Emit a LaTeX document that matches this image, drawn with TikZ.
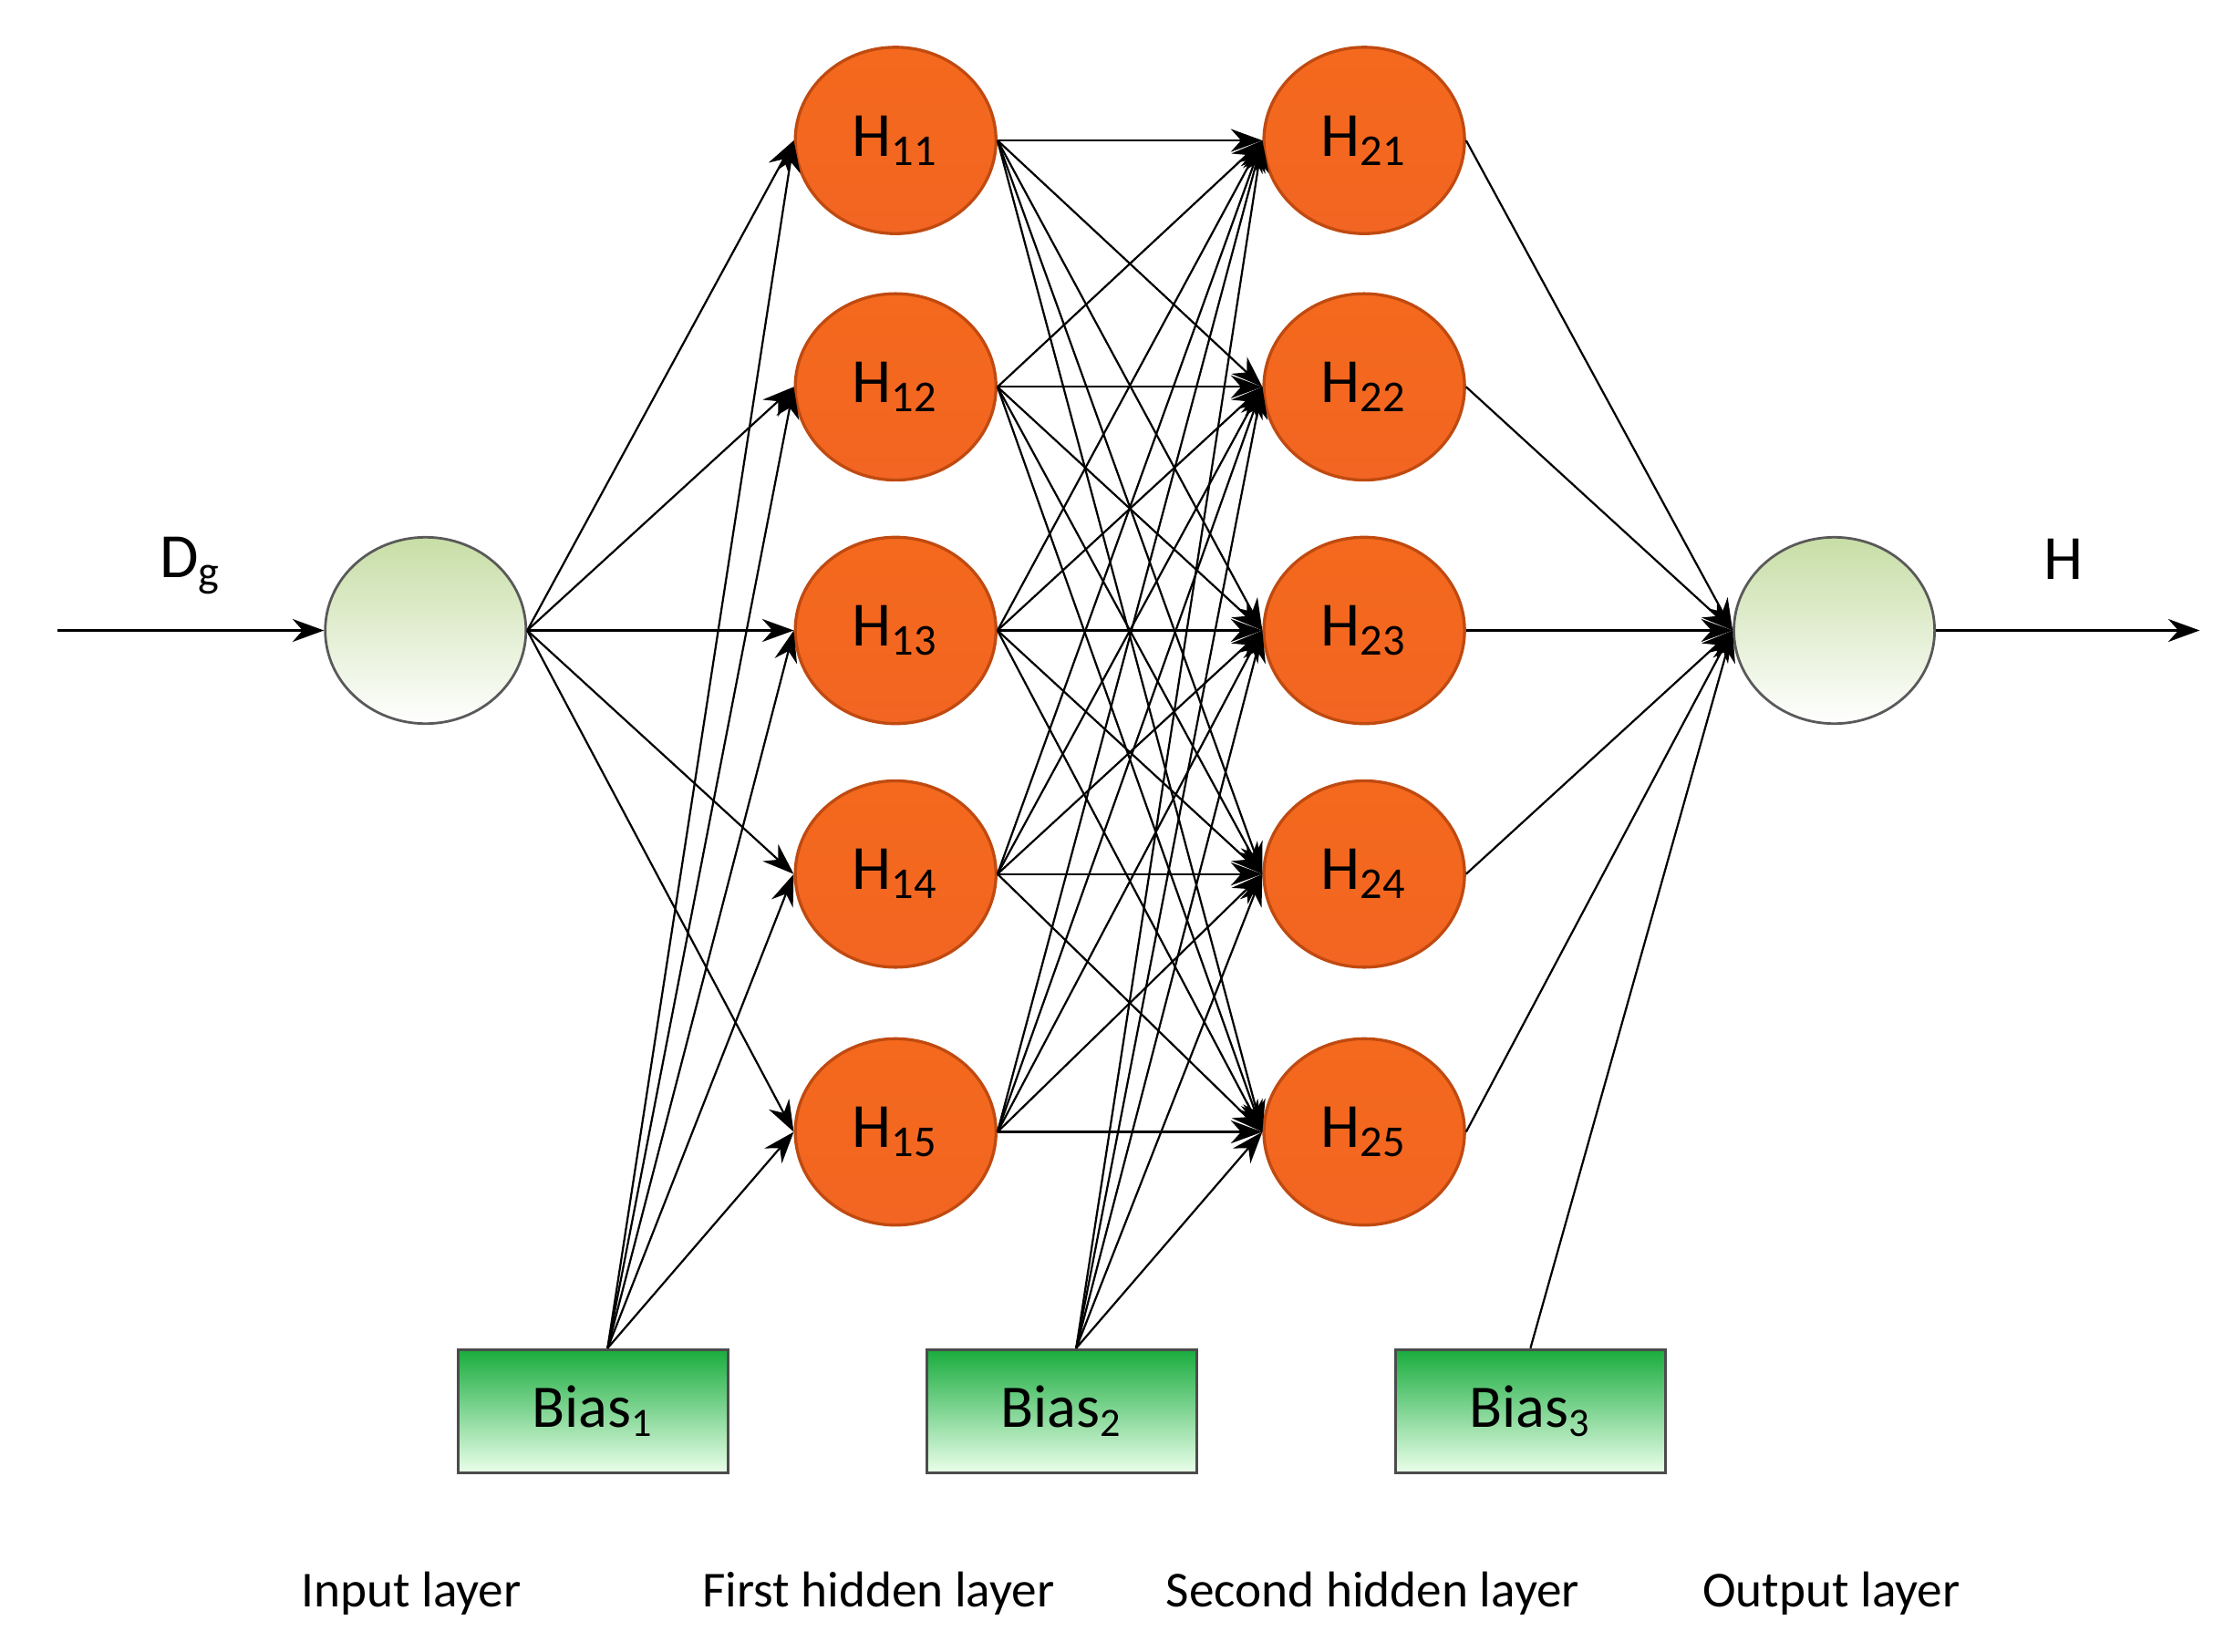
\documentclass[tikz,border=0pt]{standalone}
\usepackage{fontspec}
\setmainfont{Carlito}
\usetikzlibrary{arrows.meta,calc,shapes.geometric}
\definecolor{neuron}{HTML}{F26522}
\definecolor{neuronb}{HTML}{C04A10}
\tikzset{
 hid/.style={ellipse,draw=neuronb,line width=0.6pt,minimum width=1.4cm,minimum height=1.3cm,inner sep=0pt,top color=neuron!85!orange,bottom color=neuron,font=\fontsize{12.5}{14}\selectfont},
 io/.style={ellipse,draw=gray!70!black,line width=0.5pt,minimum width=1.4cm,minimum height=1.3cm,top color=green!25!olive!35!white,bottom color=white},
 bias/.style={draw=black!70,line width=0.6pt,minimum width=1.88cm,minimum height=0.86cm,top color=green!60!teal!80!black!90,bottom color=green!8,font=\fontsize{12}{13}\selectfont},
 lab/.style={font=\fontsize{10}{12}\selectfont},
 con/.style={line width=0.4pt,-{Stealth[length=2.2mm,width=1.6mm]}},
 x=0.01cm,y=-0.01cm}
\begin{document}
\begin{tikzpicture}
\useasboundingbox (0,0) rectangle (1552,1153);
\node[io] (in) at (297,440) {};
\node[io] (out) at (1280,440) {};
\foreach \i/\y in {1/98,2/270,3/440,4/610,5/790}{
 \node[hid] (a\i) at (625,\y) {H\textsubscript{1\i}};
 \node[hid] (b\i) at (952,\y) {H\textsubscript{2\i}};
}
\node[bias] (B1) at (414,985) {Bias\textsubscript{1}};
\node[bias] (B2) at (741,985) {Bias\textsubscript{2}};
\node[bias] (B3) at (1068,985) {Bias\textsubscript{3}};
\coordinate (p1) at ($(B1.north)+(10,0)$);
\coordinate (p2) at ($(B2.north)+(10,0)$);
\coordinate (p3) at (B3.north);
\coordinate (s) at (40,440);
\coordinate (e) at (1535,440);
\draw[con] (s) -- (in.west);
\draw[con] (out.east) -- (e);
\foreach \i in {1,...,5}{
 \draw[con] (in.east) -- (a\i.west);
 \draw[con] (p1) -- (a\i.west);
 \draw[con] (p2) -- (b\i.west);
 \draw[con] (b\i.east) -- (out.west);
 \foreach \j in {1,...,5}{\draw[con] (a\i.east) -- (b\j.west);}
}
\draw[con] (p3) -- (out.west);
\node[font=\fontsize{12.5}{14}\selectfont] (dg) at (133,395) {D\textsubscript{g}};
\node[font=\fontsize{12.5}{14}\selectfont] (hh) at (1440,390) {H};
\node[lab] (l1) at (287,1112) {Input layer};
\node[lab] (l2) at (613,1112) {First hidden layer};
\node[lab] (l3) at (958,1112) {Second hidden layer};
\node[lab] (l4) at (1278,1112) {Output layer};
\end{tikzpicture}
\end{document}
